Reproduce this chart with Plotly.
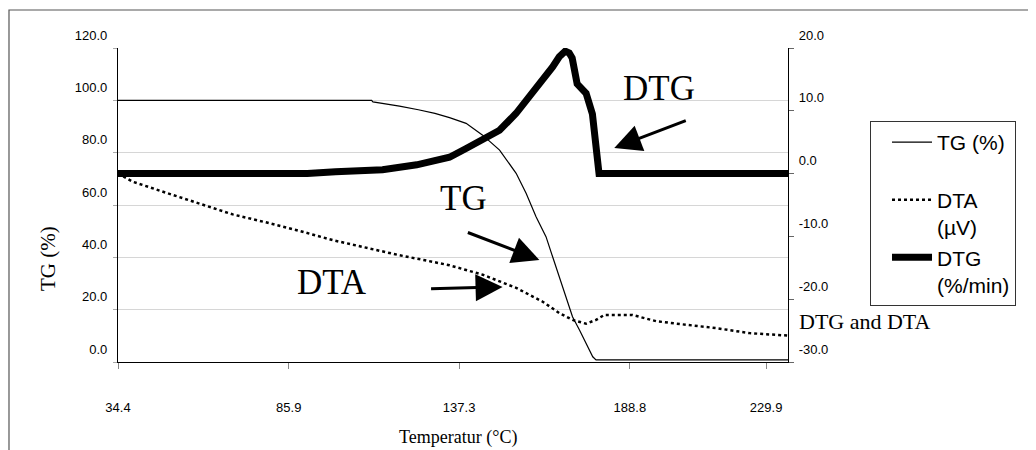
import plotly.graph_objects as go

# ---------------- data ----------------
tg_temp = [34.4, 60.0, 90.0, 110.9, 111.3, 116.0, 119.3, 125.0, 130.0, 134.4, 139.4, 144.4,
           149.5, 154.5, 157.5, 160.5, 163.5, 165.5, 167.5, 169.5, 171.5, 173.6, 175.6,
           177.6, 178.6, 200.0, 236.5]
tg_pct = [100.0, 100.0, 100.0, 100.0, 99.4, 98.5, 97.8, 96.4, 95.0, 93.4, 91.2, 86.7,
          81.0, 72.1, 64.5, 55.5, 47.9, 40.2, 32.6, 25.0, 17.3, 12.2, 7.1,
          2.0, 0.8, 0.8, 0.8]

dtg_temp = [34.4, 60.0, 91.5, 100.0, 114.2, 124.5, 134.4, 139.4, 144.4, 149.5, 154.5,
            159.5, 162.5, 165.5, 167.5, 169.3, 170.5, 171.4, 172.9, 175.6, 177.5, 178.3,
            178.9, 179.5, 200.0, 236.5]
dtg_rate = [0.0, 0.0, 0.0, 0.3, 0.6, 1.4, 2.6, 4.0, 5.3, 6.9, 9.6,
            12.8, 14.9, 17.0, 18.6, 19.5, 19.2, 18.4, 14.3, 12.8, 9.5, 6.0,
            2.2, 0.0, 0.0, 0.0]

dta_temp = [34.4, 38.9, 49.2, 59.1, 69.0, 79.3, 89.0, 99.2, 109.0, 119.3, 127.0, 134.4,
            144.4, 154.5, 162.5, 167.5, 171.5, 175.6, 178.6, 181.1, 189.5, 196.7, 204.6,
            214.8, 224.8, 234.7, 236.5]
dta_uv = [0.0, -1.3, -3.1, -4.8, -6.5, -7.8, -9.1, -10.6, -11.8, -13.0, -13.8, -14.6,
          -16.1, -18.2, -20.4, -22.2, -23.3, -23.9, -23.3, -22.5, -22.5, -23.5, -24.0,
          -24.6, -25.4, -25.7, -25.8]

x_tick_vals = [34.4, 85.9, 137.3, 188.8, 229.9]
x_tick_text = ["34.4", "85.9", "137.3", "188.8", "229.9"]
y2_tick_vals = [-30, -20, -10, 0, 10, 20]
y2_tick_text = ["-30.0", "-20.0", "-10.0", "0.0", "10.0", "20.0"]

SANS = "Arial, Liberation Sans, sans-serif"
SERIF = "Times New Roman, Liberation Serif, serif"

fig = go.Figure()

fig.add_trace(go.Scatter(
    x=dtg_temp, y=dtg_rate, yaxis="y2", mode="lines", name="DTG<br>(%/min)",
    line=dict(color="black", width=7), legendrank=3))
fig.add_trace(go.Scatter(
    x=tg_temp, y=tg_pct, mode="lines", name="TG (%)<br> ",
    line=dict(color="black", width=1.2), legendrank=1))
fig.add_trace(go.Scatter(
    x=dta_temp, y=dta_uv, yaxis="y2", mode="lines", name="DTA<br>(µV)",
    line=dict(color="black", width=2.5, dash="dot"), legendrank=2))

tick_font = dict(family=SANS, size=13, color="black")

# page body has an 8px margin: the figure is 1028x442 placed at (8, 8)
fig.update_layout(
    width=1028, height=442,
    margin=dict(l=110, r=248, t=40, b=88, autoexpand=False),
    paper_bgcolor="white", plot_bgcolor="white",
    showlegend=True,
    xaxis=dict(
        range=[34.4, 236.5], tickvals=x_tick_vals, ticktext=x_tick_text,
        showgrid=False, zeroline=False, showline=True, linecolor="black", linewidth=1.2,
        ticks="outside", ticklen=6, tickcolor="#888", tickfont=tick_font,
        ticklabelstandoff=27,
    ),
    yaxis=dict(
        range=[0, 120], dtick=20, tickformat=".1f",
        showgrid=True, gridcolor="#d6d6d6", gridwidth=1, zeroline=False,
        showline=True, linecolor="black", linewidth=1.2,
        ticks="outside", ticklen=4, tickcolor="#aaa", tickfont=tick_font,
        ticklabelshift=-13, ticklabelstandoff=3,
    ),
    yaxis3=dict(
        range=[0, 120], tickvals=[40, 100], overlaying="y", side="left",
        showgrid=True, gridcolor="#555", gridwidth=1, showticklabels=False,
        ticks="outside", ticklen=4, tickcolor="#555", zeroline=False, showline=False,
    ),
    yaxis2=dict(
        range=[-30, 20], tickvals=y2_tick_vals, ticktext=y2_tick_text,
        overlaying="y", side="right",
        showgrid=False, zeroline=False, showline=True, linecolor="black", linewidth=1.2,
        ticks="outside", ticklen=5, tickcolor="#666", tickfont=tick_font,
        ticklabelshift=-13, ticklabelstandoff=2,
    ),
    legend=dict(
        x=1.1224, y=0.7675, xanchor="left", yanchor="top",
        bordercolor="#333", borderwidth=1, bgcolor="white",
        font=dict(family=SANS, size=21, color="black"),
        indentation=16, itemwidth=40, valign="top", tracegroupgap=0,
    ),
)

# outer chart frame
fig.add_shape(type="rect", xref="paper", yref="paper",
              x0=-0.1627, x1=1.4, y0=-0.35, y1=1.121,
              line=dict(color="#555", width=1.2), fillcolor="rgba(0,0,0,0)", layer="below")

serif_big = dict(family=SERIF, size=35, color="black")
for tx, ty, label in [(197.7, 104.7, "DTG"), (138.6, 62.3, "TG"), (98.9, 30.2, "DTA")]:
    fig.add_annotation(x=tx, y=ty, xref="x", yref="y", text=label, showarrow=False,
                       xanchor="center", yanchor="middle", font=serif_big)

arrow_style = dict(showarrow=True, arrowhead=2, arrowsize=1.8, arrowwidth=3,
                   arrowcolor="black", text="", xref="x", yref="y", standoff=0)
fig.add_annotation(x=184.1, y=81.8, ax=73, ay=-28, **arrow_style)
fig.add_annotation(x=161.5, y=39.0, ax=-73, ay=-28, **arrow_style)
fig.add_annotation(x=150.4, y=28.7, ax=-73, ay=2, **arrow_style)

# axis titles
fig.add_annotation(x=-0.1045, y=0.331, xref="paper", yref="paper", text="TG (%)",
                   xanchor="center", yanchor="middle",
                   textangle=-90, showarrow=False, font=dict(family=SERIF, size=21, color="black"))
fig.add_annotation(x=1.0134, y=0.1274, xref="paper", yref="paper", xanchor="left", yanchor="middle",
                   text="DTG and DTA", showarrow=False, font=dict(family=SERIF, size=22, color="black"))
fig.add_annotation(x=(458 - 118) / 670, y=(362 - 437) / 314, xref="paper", yref="paper",
                   xanchor="center", yanchor="middle",
                   text="Temperatur (°C)", showarrow=False, font=dict(family=SERIF, size=18, color="black"))

fig.write_html("out.html")
